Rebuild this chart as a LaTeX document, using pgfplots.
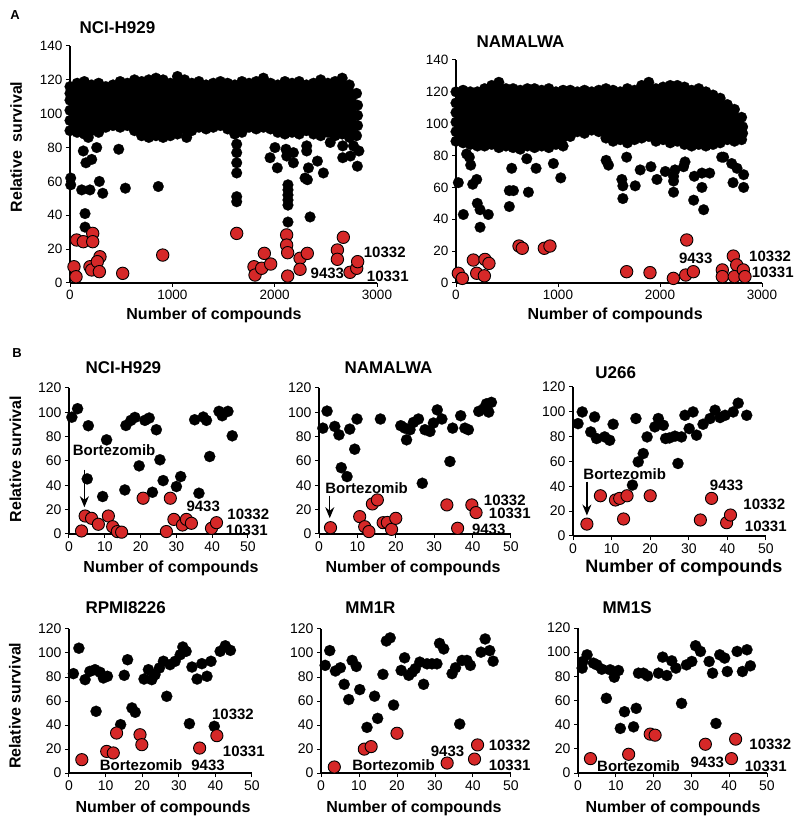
\documentclass[border=0pt]{standalone}
\usepackage{fontspec}
\setmainfont{Liberation Sans}
\usepackage{pgfplots}
\pgfplotsset{compat=1.18}
\usepackage{pgfplotstable}
\usepgfplotslibrary{fillbetween}
\usetikzlibrary{arrows.meta}
\definecolor{dotred}{RGB}{214,40,40}

\tikzset{lab/.style={font=\bfseries\fontsize{15}{18}\selectfont, inner sep=0pt},
  arr/.style={-{Stealth[length=11pt,width=9pt]}, line width=1.3pt}}
\pgfplotsset{
  every axis title shift=0pt,
  panel/.style={
    scale only axis, anchor=south west, clip=false,
    axis x line=bottom, axis y line=left,
    axis line style={-, line width=2pt, black},
    tick align=outside, major tick length=4pt,
    major tick style={black, line width=1pt},
    xmin=0, ymin=0,
    scaled ticks=false,
    /pgf/number format/assume math mode=true,
    /pgf/number format/1000 sep={},
    tick label style={font=\fontsize{14}{16}\selectfont},
    xlabel style={font=\bfseries\fontsize{16}{19}\selectfont, anchor=center},
    ylabel style={font=\bfseries\fontsize{16}{19}\selectfont, anchor=center},
    title style={font=\bfseries\fontsize{17}{20}\selectfont, anchor=west},
  },
  apanel/.style={panel, xmax=3000, ymax=140, xtick={0,1000,2000,3000}, ytick={0,20,...,140},
    tick label style={font=\fontsize{13.5}{16}\selectfont}},
  bpanel/.style={panel, xmax=50, ymax=120, xtick={0,10,...,50}, ytick={0,20,...,120}},
  blkA/.style={only marks, mark=*, mark size=5.4pt, mark options={fill=black, draw=black, line width=0.2pt}},
  rdA/.style={only marks, mark=*, mark size=6.2pt, mark options={fill=dotred, draw=black, line width=0.9pt}},
  blk/.style={only marks, mark=*, mark size=5.6pt, mark options={fill=black, draw=black, line width=0.2pt}},
  rd/.style={only marks, mark=*, mark size=6.1pt, mark options={fill=dotred, draw=black, line width=0.9pt}},
}

% ---------------- Panel A data ----------------
\pgfplotstableread{
x y
0 116
70 118
140 119
210 117
280 118
350 116
420 117
490 119
560 118
630 120
700 119
770 120
840 121
910 120
980 118
1050 122
1120 120
1190 118
1260 119
1330 117
1400 118
1470 119
1540 118
1610 117
1680 119
1750 118
1820 119
1890 121
1960 118
2030 117
2100 119
2170 118
2240 119
2310 117
2380 118
2450 120
2520 118
2590 119
2660 121
2730 117
2800 112
}\AoneTop
\pgfplotstableread{
x y
0 90
70 89
140 88
210 90
280 89
350 92
420 93
490 92
560 93
630 90
700 87
770 86
840 87
910 86
980 87
1050 88
1120 91
1190 90
1260 92
1330 91
1400 92
1470 93
1540 91
1610 88
1680 89
1750 92
1820 91
1890 92
1960 91
2030 89
2100 88
2170 89
2240 88
2310 90
2380 88
2450 87
2520 89
2590 87
2660 88
2730 86
2800 87
}\AoneBot
\pgfplotstableread{
x y
0 96
0 102
0 108
0 112
2810 93
2810 99
2810 105
7 62
7 58
130 78
156 71
212 73
179 86
261 80
114 55
195 55
147 41
147 33
287 60
320 53
476 79
541 56
863 57
1140 86
1629 82
1629 77
1629 71
1629 65
1629 51
1629 48
1955 74
2026 68
2003 80
2111 79
2118 75
2130 58
2130 55
2130 52
2130 49
2130 46
2130 36
2183 77
2183 71
2297 62
2313 78
2313 81
2330 68
2320 61
2346 39
2418 72
2476 65
2543 83
2665 74
2665 81
2740 75
2770 81
2823 78
2808 69
}\AoneOut
\pgfplotstableread{
x y
39 9.6
59 3.7
65 25.4
130 24.4
222 29.3
222 24.4
195 9.6
212 7.7
293 15.5
267 12.6
287 6.7
515 5.7
906 16.5
1629 29.3
1798 9.6
1808 4.7
1873 8.7
1899 17.5
1961 11.2
2117 28.4
2117 22.4
2127 17.9
2127 4.1
2248 14.6
2248 8.1
2319 17.5
2613 19.5
2613 14
2671 27
2736 6.3
2802 8.7
2811 12.6
}\AoneRed

\pgfplotstableread{
x y
0 120
70 121
140 120
210 120
280 122
350 124
420 126
490 122
560 122
630 121
700 122
770 122
840 121
910 122
980 120
1050 121
1120 121
1190 120
1260 121
1330 120
1400 121
1470 122
1540 121
1610 120
1680 122
1750 121
1820 124
1890 126
1960 122
2030 123
2100 124
2170 124
2240 123
2310 121
2380 122
2450 120
2520 118
2590 116
2660 112
2730 109
2800 104
}\AtwoTop
\pgfplotstableread{
x y
0 89
70 88
140 87
210 86
280 86
350 87
420 85
490 86
560 85
630 84
700 86
770 85
840 86
910 85
980 87
1050 86
1120 92
1190 95
1260 94
1330 96
1400 95
1470 91
1540 89
1610 90
1680 88
1750 90
1820 91
1890 92
1960 89
2030 90
2100 88
2170 89
2240 87
2310 86
2380 87
2450 86
2520 87
2590 88
2660 90
2730 89
2800 90
}\AtwoBot
\pgfplotstableread{
x y
0 95
0 101
0 107
0 113
2810 94
2810 98
23 63
72 43
104 81
131 79
144 74
164 62
203 65
209 50
236 46
236 35
317 43
546 72
523 58
563 58
523 48
710 57
694 78
785 72
1027 66
955 75
1472 77
1495 74
1626 65
1636 61
1636 53
1673 79
1757 61
1806 71
1911 73
1970 65
2052 70
2133 64
2133 57
2133 67
2147 71
2231 73
2245 76
2330 52
2336 67
2411 69
2411 60
2428 46
2487 69
2605 79
2624 79
2716 63
2703 75
2755 72
2820 68
2820 60
}\AtwoOut
\pgfplotstableread{
x y
23 6.1
62 2.9
170 14.4
203 6.1
284 14.8
323 12.3
278 4.5
618 23.2
650 21.8
866 21.8
921 23.2
1673 7.1
1902 6.5
2131 2.9
2262 27
2252 5
2327 7.1
2611 8.2
2611 4
2719 16.9
2752 11.3
2729 4
2817 8.2
2833 4
}\AtwoRed

\begin{document}
\begin{tikzpicture}[x=1pt,y=1pt]
\path (0,0) rectangle (800,823);
\node[font=\bfseries\fontsize{13}{15}\selectfont] at (15,808) {A};
\node[font=\bfseries\fontsize{13}{15}\selectfont] at (17,470) {B};

% ---------------- A1 ----------------
\begin{axis}[apanel, at={(70pt,540pt)}, width=307pt, height=237pt,
  title={NCI-H929}, title style={at={(axis description cs:0.02,1.076)}},
  xlabel={Number of compounds}, xlabel style={at={(axis description cs:0.469,-0.135)}},
  ylabel={Relative\ \ survival}, ylabel style={at={(axis description cs:-0.175,0.574)}}]
\addplot[draw=none, name path=t1] table {\AoneTop};
\addplot[draw=none, name path=b1] table {\AoneBot};
\addplot[fill=black, draw=none] fill between[of=t1 and b1];
\addplot[blkA] table {\AoneTop};
\addplot[blkA] table {\AoneBot};
\addplot[blkA] table {\AoneOut};
\addplot[rdA] table {\AoneRed};
\node[lab, anchor=west] at (axis cs:2870,18) {10332};
\node[lab, anchor=west] at (axis cs:2900,3.7) {10331};
\node[lab] at (axis cs:2515,5.5) {9433};
\end{axis}

% ---------------- A2 ----------------
\begin{axis}[apanel, at={(456pt,540pt)}, width=306pt, height=223pt,
  title={NAMALWA}, title style={at={(axis description cs:0.056,1.081)}},
  xlabel={Number of compounds}, xlabel style={at={(axis description cs:0.520,-0.1435)}}]
\addplot[draw=none, name path=t2] table {\AtwoTop};
\addplot[draw=none, name path=b2] table {\AtwoBot};
\addplot[fill=black, draw=none] fill between[of=t2 and b2];
\addplot[blkA] table {\AtwoTop};
\addplot[blkA] table {\AtwoBot};
\addplot[blkA] table {\AtwoOut};
\addplot[rdA] table {\AtwoRed};
\node[lab] at (axis cs:2350,15.6) {9433};
\node[lab, anchor=west] at (axis cs:2873,17) {10332};
\node[lab, anchor=west] at (axis cs:2899,6.5) {10331};
\end{axis}

% ---------------- B1 NCI-H929 ----------------
\begin{axis}[bpanel, at={(69pt,289pt)}, width=179pt, height=146pt,
  title={NCI-H929}, title style={at={(axis description cs:0.073,1.137)}},
  xlabel={Number of compounds}, xlabel style={at={(axis description cs:0.570,-0.233)}},
  ylabel={Relative survival}, ylabel style={at={(axis description cs:-0.300,0.514)}}]
\addplot[blk] coordinates {(0.8,96) (2.4,103) (5.4,89) (5.1,45.3) (9.4,30.8) (10.5,77.4) (15.6,36.2) (15.9,89.2) (17.3,93.4) (18.4,95.8) (19.6,56) (21.2,93.4) (22.4,95.3) (23.3,34.3) (24.4,85.7) (25.4,61) (26.3,43.9) (30,39) (31.2,47.2) (35.1,93.9) (36.3,33.5) (37.5,96.1) (38.4,93.4) (39.3,63.7) (41.9,100.8) (42.8,97.2) (44.4,100.8) (45.6,80.7)};
\addplot[rd] coordinates {(3.5,2.5) (4.5,14.8) (6.3,12.9) (8.2,8) (11,14.8) (12.2,6) (13.5,2) (14.7,1.5) (20.7,29.4) (27.2,2) (28.3,29.4) (29.3,12) (31.7,7.4) (32.8,12) (34.2,8.8) (39.8,4.7) (41.2,9.3)};
\node[lab] at (axis cs:12.6,68.6) {Bortezomib};
\draw[arr] (axis cs:4.3,53) -- (axis cs:4.3,22);
\node[lab] at (axis cs:37.5,22.5) {9433};
\node[lab, anchor=west] at (axis cs:44.2,16.2) {10332};
\node[lab, anchor=west] at (axis cs:43.8,3.3) {10331};
\end{axis}

% ---------------- B2 NAMALWA ----------------
\begin{axis}[bpanel, at={(319pt,289pt)}, width=192pt, height=146pt,
  title={NAMALWA}, title style={at={(axis description cs:0.115,1.137)}},
  xlabel={Number of compounds}, xlabel style={at={(axis description cs:0.490,-0.233)}}]
\addplot[blk] coordinates {(1,87) (2.1,101) (4.1,88.4) (5.2,81.5) (5.8,54.5) (7.3,47.2) (8,86.2) (9.3,69.7) (9.9,94.5) (16,94.5) (21.3,89) (22.4,87) (22.8,77.4) (23.7,85.7) (24.6,91.7) (25.9,94.5) (26.9,41.7) (27.6,85.7) (28.9,84.3) (29.8,91.2) (30.8,102) (32,94.5) (34.1,59.6) (34.8,87) (36.9,97.2) (38,87) (38.9,85.7) (41.6,100.8) (42.9,103) (43.6,107) (44.2,100.2) (44.9,108.2)};
\addplot[rd] coordinates {(3,5.2) (10.6,14.3) (11.9,6) (13,2) (13.9,24.7) (15.2,28) (16.7,9.3) (17.8,9.5) (18.9,3.8) (20,12.9) (33.3,23.9) (36.1,4.7) (39.8,23.9) (40.9,17.6)};
\node[lab] at (axis cs:12.4,37.6) {Bortezomib};
\draw[arr] (axis cs:2.8,31.6) -- (axis cs:2.8,13);
\node[lab, anchor=west] at (axis cs:42.9,28) {10332};
\node[lab, anchor=west] at (axis cs:44.2,17) {10331};
\node[lab, anchor=west] at (axis cs:39.8,3.8) {9433};
\end{axis}

% ---------------- B3 U266 ----------------
\begin{axis}[bpanel, at={(573pt,287pt)}, width=193pt, height=149pt,
  title={U266}, title style={at={(axis description cs:0.098,1.094)}},
  xlabel={Number of compounds}, xlabel style={at={(axis description cs:0.575,-0.215)}, font=\bfseries\fontsize{18}{21}\selectfont}]
\addplot[blk] coordinates {(1.3,90.5) (2.4,99.9) (4.6,83.8) (5.6,95.9) (6.1,78.5) (8.2,79.8) (9.5,77.1) (10.4,90) (15.4,41) (16.3,94.6) (16.9,59.7) (18.2,66.4) (19.2,79.8) (21.2,87.9) (22.1,94.6) (23.4,89.2) (24,78.5) (25,79) (26.4,80.4) (27.2,58.4) (28.1,79.8) (29,97.2) (30.1,86.5) (31.1,99.9) (32,81.2) (33.7,90) (35.5,94.6) (36.8,101.3) (38.1,95.4) (39.4,97.2) (41.5,99.9) (42.8,107) (45,97.2)};
\addplot[rd] coordinates {(3.6,9.6) (7.1,32.4) (11,29) (12.1,30.3) (13.1,13.7) (14,32.4) (20,32.4) (33,12.9) (35.9,30.3) (39.8,10.7) (40.8,16.9)};
\node[lab] at (axis cs:13.4,49.8) {Bortezomib};
\draw[arr] (axis cs:3.6,43.7) -- (axis cs:3.6,16.5);
\node[lab] at (axis cs:39.8,41) {9433};
\node[lab, anchor=west] at (axis cs:44.1,25.4) {10332};
\node[lab, anchor=west] at (axis cs:44.5,7.5) {10331};
\end{axis}

% ---------------- B4 RPMI8226 ----------------
\begin{axis}[bpanel, at={(69pt,50pt)}, width=183pt, height=144pt,
  title={RPMI8226}, title style={at={(axis description cs:0.071,1.146)}},
  xlabel={Number of compounds}, xlabel style={at={(axis description cs:0.514,-0.243)}},
  ylabel={Relative survival}, ylabel style={at={(axis description cs:-0.295,0.467)}}]
\addplot[blk] coordinates {(1.2,82.8) (2.7,104) (4.4,77.8) (5.7,84.7) (7.1,86.1) (7.4,51.4) (8.5,83.9) (9.4,79.2) (10.5,80.6) (14.1,40.3) (15.1,81.4) (16,94.4) (17.2,54.2) (18.1,50.6) (20.5,78.3) (21.7,86.1) (22.6,77.8) (23.5,81.9) (24.7,87.5) (25.8,93.1) (26.7,63.9) (27.6,90.3) (29,93.1) (30.4,98.6) (31.1,105) (32,101.4) (32.9,41.1) (33.6,88.3) (35,78.3) (36.3,91.1) (37.7,80.6) (38.8,93.1) (39.7,38.9) (41.3,101.4) (42.7,106) (44.1,102.2)};
\addplot[rd] coordinates {(3.5,11.1) (10.3,18) (12.1,16.7) (13,33.3) (19.4,31.9) (19.9,23.6) (35.7,20.8) (40.4,31.1)};
\node[lab] at (axis cs:19.7,6.7) {Bortezomib};
\node[lab] at (axis cs:38,6.7) {9433};
\node[lab] at (axis cs:44.8,48.6) {10332};
\node[lab, anchor=west] at (axis cs:42,18) {10331};
\end{axis}

% ---------------- B5 MM1R ----------------
\begin{axis}[bpanel, at={(321pt,50pt)}, width=190pt, height=144pt,
  title={MM1R}, title style={at={(axis description cs:0.11,1.146)}},
  xlabel={Number of compounds}, xlabel style={at={(axis description cs:0.489,-0.243)}}]
\addplot[blk] coordinates {(1.1,89.7) (2.3,102) (3.8,85) (5.1,87.7) (6.1,73.9) (7.3,61.2) (8.2,93.8) (9.3,88.8) (10.2,69.5) (12.1,38) (14.1,64) (14.9,45.5) (16.3,82.2) (17.2,110) (18.2,112.6) (19.1,56.6) (21.1,85.5) (22,96) (23.1,81.4) (24,84) (24.8,86.9) (26,92.4) (27,73.9) (27.9,91) (29.2,91) (30.5,91) (31.2,108) (32.3,103.4) (34.5,82.8) (35.4,87.7) (36.5,40.8) (37.1,93.8) (38.4,93.8) (39.3,89.7) (42.1,100.7) (43.2,111.7) (44.4,102) (45.3,93.2)};
\addplot[rd] coordinates {(3.5,5) (11.4,19.9) (13.2,22) (20,33.1) (33.2,8.3) (40.4,11.6) (41.2,23.4)};
\node[lab] at (axis cs:19.1,6.3) {Bortezomib};
\node[lab] at (axis cs:33.3,17.9) {9433};
\node[lab, anchor=west] at (axis cs:44.1,22.9) {10332};
\node[lab, anchor=west] at (axis cs:44.1,6.1) {10331};
\end{axis}

% ---------------- B6 MM1S ----------------
\begin{axis}[bpanel, at={(578pt,50pt)}, width=189pt, height=145pt,
  title={MM1S}, title style={at={(axis description cs:0.111,1.138)}},
  xlabel={Number of compounds}, xlabel style={at={(axis description cs:0.503,-0.241)}}]
\addplot[blk] coordinates {(1.1,86.8) (1.3,92.3) (2.4,97.8) (4.1,90.9) (5,89.5) (6.3,85.9) (7.5,61.8) (8.5,85.4) (9.6,79.3) (10.7,84.8) (11.2,36.9) (12.3,50.7) (14.7,38.2) (15.4,53.5) (16,82.6) (17.3,82.6) (18.4,80.4) (21.3,82.6) (22.4,95.9) (23.5,80.7) (24.8,92.8) (25.9,86.8) (27.4,57.6) (28.7,89.5) (30.1,92.3) (31.1,105.3) (32.4,100.6) (34.7,92.3) (35.6,82.6) (36.5,41) (37.5,97.8) (38.8,95.1) (39.5,84) (42.1,100.6) (43.5,84) (44.7,102) (45.6,88.7)};
\addplot[rd] coordinates {(3.3,11.9) (13.4,15.5) (19.1,32.2) (20.4,31.3) (33.7,23.8) (40.6,11.9) (41.7,28)};
\node[lab] at (axis cs:16,5.5) {Bortezomib};
\node[lab] at (axis cs:34.2,9) {9433};
\node[lab, anchor=west] at (axis cs:45.3,23.8) {10332};
\node[lab, anchor=west] at (axis cs:44.1,5.5) {10331};
\end{axis}
\end{tikzpicture}
\end{document}
